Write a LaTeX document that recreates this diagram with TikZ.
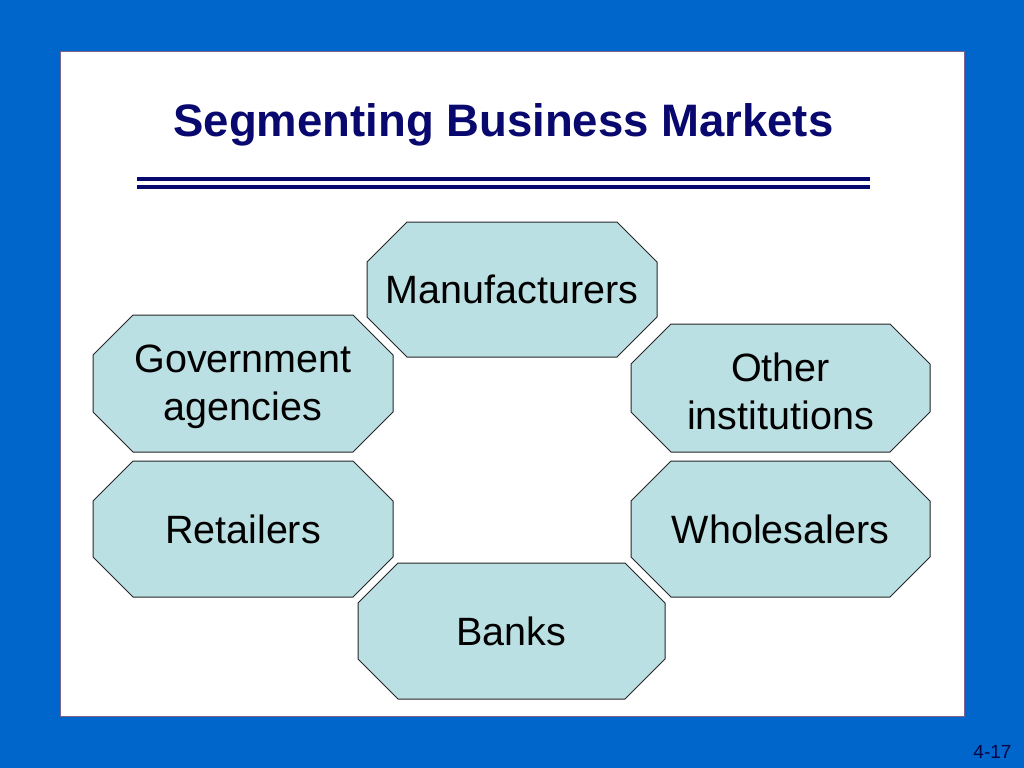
\documentclass[tikz,border=0pt]{standalone}
\usepackage{fontspec}
\setmainfont{Liberation Sans}
\definecolor{slideblue}{RGB}{0,102,204}
\definecolor{navy}{RGB}{8,8,110}
\definecolor{segfill}{RGB}{187,224,227}
\definecolor{panelline}{RGB}{120,100,140}

\begin{document}
\begin{tikzpicture}[x=1bp,y=-1bp,
    segbox/.style={fill=segfill, draw=black!85, line width=1bp},
    seglabel/.style={align=center, inner sep=0pt, font=\fontsize{39.5bp}{45bp}\selectfont},
    ruleline/.style={draw=navy, line width=3.6bp}]
  \def\cut{40}   % corner cut of the octagons
  \useasboundingbox (0,0) rectangle (1024,768);
  \fill[slideblue] (0,0) rectangle (1024,768);
  \draw[fill=white, draw=panelline, line width=1bp] (60,52) rectangle (964,716);
  % title and double rule
  \node[anchor=base, text=navy, font=\fontsize{45.5bp}{50bp}\selectfont\bfseries] (title) at (503.5,136) {Segmenting Business Markets};
  \coordinate (rulel) at (137,179);
  \coordinate (ruler) at (870,179);
  \draw[ruleline] (rulel) -- (ruler);
  \draw[ruleline] ([yshift=-8bp]rulel) -- ([yshift=-8bp]ruler);
  % segments
  \foreach \xa/\ya/\xb/\yb/\dy/\nm/\txt in {
      367/222/657/357/0/manu/Manufacturers,
      93/315/393/452/3/gov/{Government\\[3bp]agencies},
      631/324/930/452/3/other/{Other\\[3bp]institutions},
      93/461/393/597/0/retail/Retailers,
      631/461/930/597/0/whole/Wholesalers,
      358/563/665/699/0/banks/Banks} {
    \draw[segbox] (\xa+\cut,\ya) -- (\xb-\cut,\ya) -- (\xb,\ya+\cut) -- (\xb,\yb-\cut)
      -- (\xb-\cut,\yb) -- (\xa+\cut,\yb) -- (\xa,\yb-\cut) -- (\xa,\ya+\cut) -- cycle;
    \node[seglabel] (\nm) at ({(\xa+\xb)/2},{(\ya+\yb)/2+\dy}) {\txt};
  }
  % slide number
  \node[anchor=base, text=navy!60!black, font=\fontsize{19bp}{22bp}\selectfont] (pgno) at (992.5,758) {4-17};
\end{tikzpicture}
\end{document}
